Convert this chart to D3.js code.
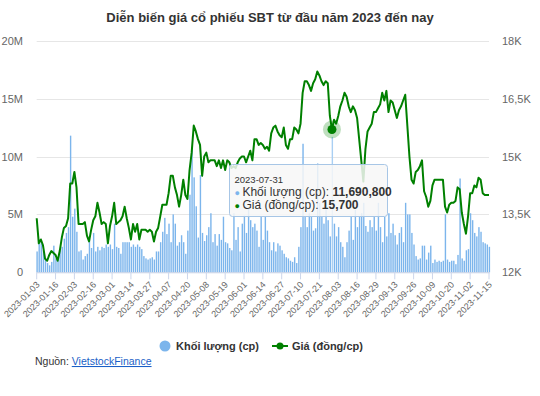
<!DOCTYPE html>
<html><head><meta charset="utf-8">
<script src="https://cdn.jsdelivr.net/npm/d3@7"></script>
<style>
html,body{margin:0;padding:0;background:#fff;}
svg{display:block;font-family:"Liberation Sans",Arial,Helvetica,sans-serif;}
</style></head><body>
<svg id="chart" width="540" height="396"></svg>
<script>
const title = "Diễn biến giá cổ phiếu SBT từ đầu năm 2023 đến nay";
const tickLabels = ["2023-01-03","2023-01-16","2023-02-03","2023-02-16","2023-03-01","2023-03-14","2023-03-27","2023-04-07","2023-04-20","2023-05-08","2023-05-19","2023-06-01","2023-06-14","2023-06-27","2023-07-10","2023-07-21","2023-08-03","2023-08-16","2023-08-29","2023-09-13","2023-09-26","2023-10-09","2023-10-20","2023-11-02","2023-11-15"];
const tickStep = 9; // trading sessions between labels
// Khối lượng (millions of shares), one value per session
const volume = [
1.8,2.6,2.7,1.9,1.1,0.8,0.6,0.9,2.3,1.2,
1.3,1.9,2.2,2.9,3.4,3.9,11.8,4.8,5.5,3.5,
1.8,1.9,1.1,1.4,1.6,2.9,2.1,3.4,1.8,2.2,
1.9,2.2,2.1,2.4,2.2,2.4,2.0,4.2,2.2,2.1,
1.6,2.6,2.6,2.6,2.6,2.2,2.4,2.2,2.4,2.2,
2.0,1.4,1.2,1.1,1.2,1.3,1.1,1.8,1.8,2.6,
3.5,4.7,3.3,4.2,2.6,5.0,4.2,2.3,2.6,3.2,
2.6,1.6,3.6,6.7,10.8,8.2,5.7,3.0,8.4,3.4,
2.7,3.2,3.9,5.1,2.6,3.3,2.3,3.3,2.8,4.8,
2.6,2.5,2.1,1.9,5.1,2.8,3.9,1.8,4.2,4.9,
3.4,5.6,4.5,3.9,4.2,3.6,2.2,4.8,2.8,4.8,
3.6,2.6,1.9,2.6,1.8,2.5,2.3,1.9,1.6,1.3,
1.2,1.0,0.9,1.3,0.8,2.2,3.9,11.1,4.8,3.9,
5.1,4.8,3.6,3.8,9.4,6.0,4.8,4.2,5.4,4.5,
3.1,11.6908,4.2,3.1,3.9,2.6,2.2,1.3,2.6,3.6,
4.8,2.8,5.4,3.9,4.8,5.1,6.0,4.0,3.5,4.5,
3.9,4.8,3.6,6.0,3.9,2.6,4.8,3.1,5.1,3.4,
4.2,3.2,2.4,3.4,3.9,2.6,6.0,5.0,5.0,3.4,
2.4,1.4,1.1,1.2,2.3,2.3,1.1,1.7,2.3,0.8,
1.1,0.9,1.0,0.9,1.0,5.0,1.1,0.9,1.0,1.0,
0.7,1.5,8.1,1.2,1.0,1.9,2.0,5.1,4.5,3.4,
3.1,3.9,3.5,2.6,2.5,2.4,2.2
];
// Giá (đồng/cp), one value per session
const price = [
13400,12750,12850,12700,12350,12300,12450,12550,12500,12450,
12300,12550,12900,13150,13200,13400,14300,14300,14600,14200,
13250,13250,13250,13300,12950,12800,13100,13350,13450,13800,
13550,13250,13300,13250,12750,13200,13450,13800,13250,13300,
13350,13450,13700,13400,13150,12850,13250,13050,13250,12850,
13100,13100,13100,13050,13100,13050,12800,13050,13150,13450,
13750,13750,13750,14050,14500,14500,14200,14000,13700,14000,
14400,14000,13900,14650,15100,15800,15650,15450,15300,14500,
15000,15100,14850,14900,14900,14900,14750,14900,14700,14900,
14650,14900,14850,14700,14750,14700,14850,14950,15000,15000,
14850,15000,15150,14900,15450,15450,15300,15350,15300,15200,
15250,15150,15600,15750,15800,15650,15550,15500,15750,15300,
15200,15450,15450,15750,15700,15600,15850,16650,16950,16950,
16850,16700,16900,17000,17200,17100,16950,16850,16950,16900,
16050,15700,15950,15850,16050,16300,16450,16650,16550,16300,
16150,16300,16200,16000,15450,14900,14350,15200,15650,15750,
15850,16150,16150,16250,16350,16650,16450,16700,16150,16450,
16400,16200,16000,16200,16300,16450,16600,15800,15000,14400,
14300,14600,14650,14750,14900,14100,13950,13700,13850,14250,
14400,14400,14400,14400,14400,13700,13550,13750,13800,13800,
13850,14200,14150,13550,13250,13000,13450,14050,14050,14250,
14200,14450,14400,14050,14000,14000,14000
];
const volTicks = [0,5,10,15,20];
const volTickLabels = ["0","5M","10M","15M","20M"];
const priceTicks = [12000,13500,15000,16500,18000];
const priceTickLabels = ["12K","13,5K","15K","16,5K","18K"];
const seriesNames = ["Khối lượng (cp)","Giá (đồng/cp)"];
const seriesColors = ["#7cb5ec","#008000"];
const hoverIndex = 141;
const hoverDate = "2023-07-31";
const sourceLabel = "Nguồn: ";
const sourceLink = "VietstockFinance";

const svg = d3.select("#chart");
const L = 36.7, R = 489, T = 40.7, B = 272.3;
const n = volume.length;
const x = d3.scaleLinear().domain([0, n - 1]).range([L, R]);
const yV = d3.scaleLinear().domain([0, 20]).range([B, T]);
const yP = d3.scaleLinear().domain([12000, 18000]).range([B, T]);

// title
svg.append("text").attr("x", 270).attr("y", 21.5).attr("text-anchor", "middle")
  .attr("font-size", "13px").attr("font-weight", "bold").attr("fill", "#333").text(title);

// grid
svg.append("g").selectAll("line").data(volTicks).join("line")
  .attr("x1", L).attr("x2", R).attr("y1", d => Math.round(yV(d)) + 0.5).attr("y2", d => Math.round(yV(d)) + 0.5)
  .attr("stroke", "#e6e6e6").attr("stroke-width", 1);

// left axis labels
svg.append("g").selectAll("text").data(volTicks).join("text")
  .attr("x", 23).attr("y", d => yV(d) + 4).attr("text-anchor", "end")
  .attr("font-size", "11px").attr("fill", "#666").text((d, i) => volTickLabels[i]);
// right axis labels
svg.append("g").selectAll("text").data(priceTicks).join("text")
  .attr("x", 502).attr("y", d => yP(d) + 4).attr("text-anchor", "start")
  .attr("font-size", "11px").attr("fill", "#666").text((d, i) => priceTickLabels[i]);

// bars
const bw = 1.4;
svg.append("g").selectAll("rect").data(volume).join("rect")
  .attr("x", (d, i) => x(i) - bw / 2 + 0.4).attr("width", bw)
  .attr("y", d => yV(d)).attr("height", d => B - yV(d))
  .attr("fill", (d, i) => i === hoverIndex ? "#a9cff3" : seriesColors[0]);

// x axis
svg.append("line").attr("x1", L).attr("x2", R + 1).attr("y1", B + 0.5).attr("y2", B + 0.5).attr("stroke", "#ccd6eb");
const tickIdx = d3.range(0, n, tickStep);
svg.append("g").selectAll("line").data(tickIdx).join("line")
  .attr("x1", d => x(d)).attr("x2", d => x(d)).attr("y1", B).attr("y2", B + 7).attr("stroke", "#ccd6eb");
svg.append("g").selectAll("text").data(tickIdx).join("text")
  .attr("transform", d => `translate(${x(d) + 3.5},${B + 13}) rotate(-45)`)
  .attr("text-anchor", "end").attr("font-size", "9px").attr("fill", "#666")
  .text((d, i) => tickLabels[i]);

// price line
const line = d3.line().x((d, i) => x(i)).y(d => yP(d));
svg.append("path").datum(price).attr("d", line).attr("fill", "none")
  .attr("stroke", seriesColors[1]).attr("stroke-width", 2).attr("stroke-linejoin", "round");

// hover marker
svg.append("circle").attr("cx", x(hoverIndex)).attr("cy", yP(price[hoverIndex])).attr("r", 9)
  .attr("fill", seriesColors[1]).attr("fill-opacity", 0.25);
svg.append("circle").attr("cx", x(hoverIndex)).attr("cy", yP(price[hoverIndex])).attr("r", 4.5)
  .attr("fill", seriesColors[1]);

// tooltip
const tt = svg.append("g").attr("transform", "translate(229.5,164.5)");
tt.append("rect").attr("width", 158).attr("height", 52).attr("rx", 3)
  .attr("fill", "rgba(247,247,247,0.85)").attr("stroke", "#a7c6e6").attr("stroke-width", 1);
tt.append("text").attr("x", 5).attr("y", 18.5).attr("font-size", "9.5px").attr("fill", "#333").text(hoverDate);
const fmt = d3.format(",");
const rows = [
  { c: seriesColors[0], name: seriesNames[0], v: fmt(Math.round(volume[hoverIndex] * 1e6)) },
  { c: seriesColors[1], name: seriesNames[1], v: fmt(price[hoverIndex]) }
];
rows.forEach((r, k) => {
  const t = tt.append("text").attr("x", 5).attr("y", 31.5 + k * 13).attr("font-size", "12px").attr("fill", "#333");
  t.append("tspan").attr("fill", r.c).attr("font-size", "9px").text("\u25CF ");
  t.append("tspan").attr("font-size", "12px").text(r.name + ": ");
  t.append("tspan").attr("font-weight", "bold").text(r.v);
});

// legend
const lg = svg.append("g");
lg.append("circle").attr("cx", 165).attr("cy", 346).attr("r", 5.5).attr("fill", seriesColors[0]);
lg.append("text").attr("x", 176).attr("y", 350).attr("font-size", "11px").attr("font-weight", "bold").attr("fill", "#333").text(seriesNames[0]);
lg.append("line").attr("x1", 272).attr("x2", 288).attr("y1", 346).attr("y2", 346).attr("stroke", seriesColors[1]).attr("stroke-width", 2);
lg.append("circle").attr("cx", 280).attr("cy", 346).attr("r", 3.5).attr("fill", seriesColors[1]);
lg.append("text").attr("x", 292).attr("y", 350).attr("font-size", "11px").attr("font-weight", "bold").attr("fill", "#333").text(seriesNames[1]);

// source
const src = svg.append("text").attr("x", 35).attr("y", 365).attr("font-size", "10.5px").attr("fill", "#333");
src.append("tspan").text(sourceLabel);
src.append("tspan").attr("fill", "#1a5fc7").attr("text-decoration", "underline").text(sourceLink);
</script>
</body></html>
